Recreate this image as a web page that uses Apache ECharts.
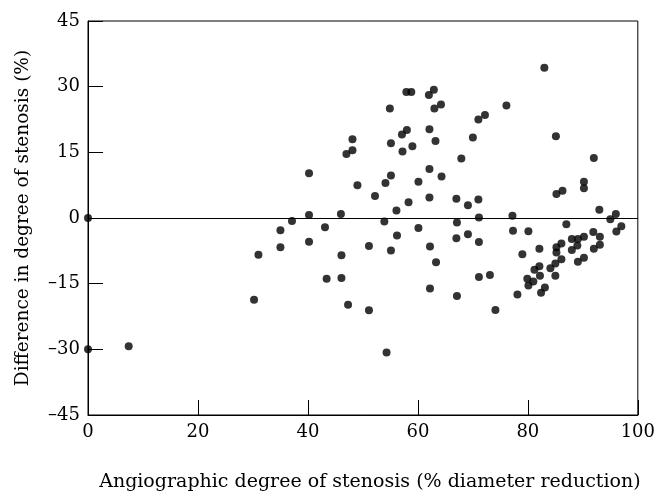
<!DOCTYPE html>
<html>
<head>
<meta charset="utf-8">
<script src="https://cdn.jsdelivr.net/npm/echarts@6/dist/echarts.min.js"></script>
<style>html,body{margin:0;padding:0;background:#fff}#c{width:658px;height:497px}</style>
</head>
<body>
<div id="c"></div>
<script>
const xTicks = [0, 20, 40, 60, 80, 100];
const yTicks = [-45, -30, -15, 0, 15, 30, 45];
const stenosis = [
  0, 0, 7.4, 31.0, 30.2,
  57.9, 58.8, 62.9, 62.0, 54.9, 64.2, 63.0, 58.0, 57.1, 62.1, 48.1, 55.1, 63.2, 48.1, 47.0, 59.0, 57.2, 40.2, 62.1, 55.1, 64.3, 49.0, 54.1, 60.1, 52.2, 62.1, 58.3, 56.1,
  83.0, 76.1, 72.2, 71.0, 70.0, 85.1, 67.9, 92.0, 67.0, 69.1, 71.0, 85.2, 86.3, 90.2, 90.2, 93.0, 96.0,
  67.1, 71.1, 77.2, 95.0, 87.0, 97.0, 96.1, 67.0, 69.1, 71.1, 77.3, 80.1, 82.1, 79.0, 85.2, 86.1, 85.2, 88.0, 89.1, 90.2, 91.9, 93.1, 93.1, 92.0, 88.0, 89.0, 90.2, 89.1, 86.1, 85.0, 84.1, 82.1, 81.2, 82.2, 85.0, 79.9, 81.0, 80.1, 83.1, 82.4, 78.1, 71.1, 73.1, 67.1, 74.1,
  46.0, 40.2, 37.1, 35.0, 35.0, 40.2, 43.1, 53.9, 56.2, 60.1, 51.1, 55.1, 62.2, 46.1, 63.3, 43.4, 46.1, 62.2, 47.3, 51.1, 54.3
];
const difference = [
  0, -30, -29.3, -8.4, -18.7,
  28.8, 28.8, 29.3, 28.1, 25.0, 25.9, 25.0, 20.1, 19.1, 20.3, 18.0, 17.1, 17.6, 15.5, 14.6, 16.4, 15.2, 10.2, 11.2, 9.7, 9.5, 7.5, 8.0, 8.3, 5.0, 4.7, 3.6, 1.7,
  34.3, 25.7, 23.5, 22.5, 18.4, 18.7, 13.6, 13.7, 4.4, 2.9, 4.2, 5.5, 6.2, 8.3, 6.8, 1.9, 0.9,
  -1.0, 0.1, 0.5, -0.3, -1.4, -1.9, -3.1, -4.6, -3.7, -5.5, -2.9, -3.0, -7.0, -8.3, -6.7, -5.8, -7.9, -4.8, -4.8, -4.3, -3.2, -4.3, -6.1, -7.0, -7.3, -6.3, -9.1, -10.0, -9.4, -10.4, -11.5, -11.0, -11.8, -13.2, -13.2, -13.9, -14.5, -15.4, -15.9, -17.1, -17.5, -13.5, -13.0, -17.8, -21.0,
  0.9, 0.7, -0.7, -2.8, -6.7, -5.4, -2.1, -0.8, -4.0, -2.3, -6.4, -7.4, -6.5, -8.5, -10.1, -13.9, -13.7, -16.1, -19.8, -21.1, -30.7
];
const xTitle = 'Angiographic degree of stenosis (% diameter reduction)';
const yTitle = 'Difference in degree of stenosis (%)';

const points = stenosis.map((x, i) => [x, difference[i]]);
const font = 'DejaVu Serif';
const chart = echarts.init(document.getElementById('c'), null, {renderer: 'canvas'});
chart.setOption({
  animation: false,
  backgroundColor: '#fff',
  grid: {left: 88, right: 18, top: 21, bottom: 75, show: true, borderColor: '#000', borderWidth: 1, backgroundColor: 'transparent'},
  xAxis: {
    type: 'value', min: xTicks[0], max: xTicks[xTicks.length - 1], interval: 20,
    axisLine: {onZero: false, lineStyle: {color: '#000', width: 1}},
    axisTick: {inside: true, length: 15, lineStyle: {color: '#000'}},
    splitLine: {show: false},
    axisLabel: {color: '#000', fontFamily: font, fontSize: 18, margin: 8},
    name: xTitle, nameLocation: 'middle', nameGap: 58,
    nameTextStyle: {color: '#000', fontFamily: font, fontSize: 19, padding: [0, 0, 0, 14]}
  },
  yAxis: {
    type: 'value', min: yTicks[0], max: yTicks[yTicks.length - 1], interval: 15,
    axisLine: {onZero: false, lineStyle: {color: '#000', width: 1}},
    axisTick: {inside: true, length: 15, lineStyle: {color: '#000'}},
    splitLine: {show: false},
    axisLabel: {color: '#000', fontFamily: font, fontSize: 18, margin: 8,
      formatter: v => (v < 0 ? '\u2013' + Math.abs(v) : String(v))},
    name: yTitle, nameLocation: 'middle', nameGap: 55, nameRotate: 90,
    nameTextStyle: {color: '#000', fontFamily: font, fontSize: 18.5}
  },
  series: [{
    type: 'scatter', data: points, symbol: 'circle', symbolSize: 8, clip: false,
    itemStyle: {color: '#000'},
    markLine: {silent: true, symbol: 'none', label: {show: false},
      lineStyle: {color: '#000', width: 1, type: 'solid'}, data: [{yAxis: 0}]}
  }]
});
</script>
</body>
</html>
